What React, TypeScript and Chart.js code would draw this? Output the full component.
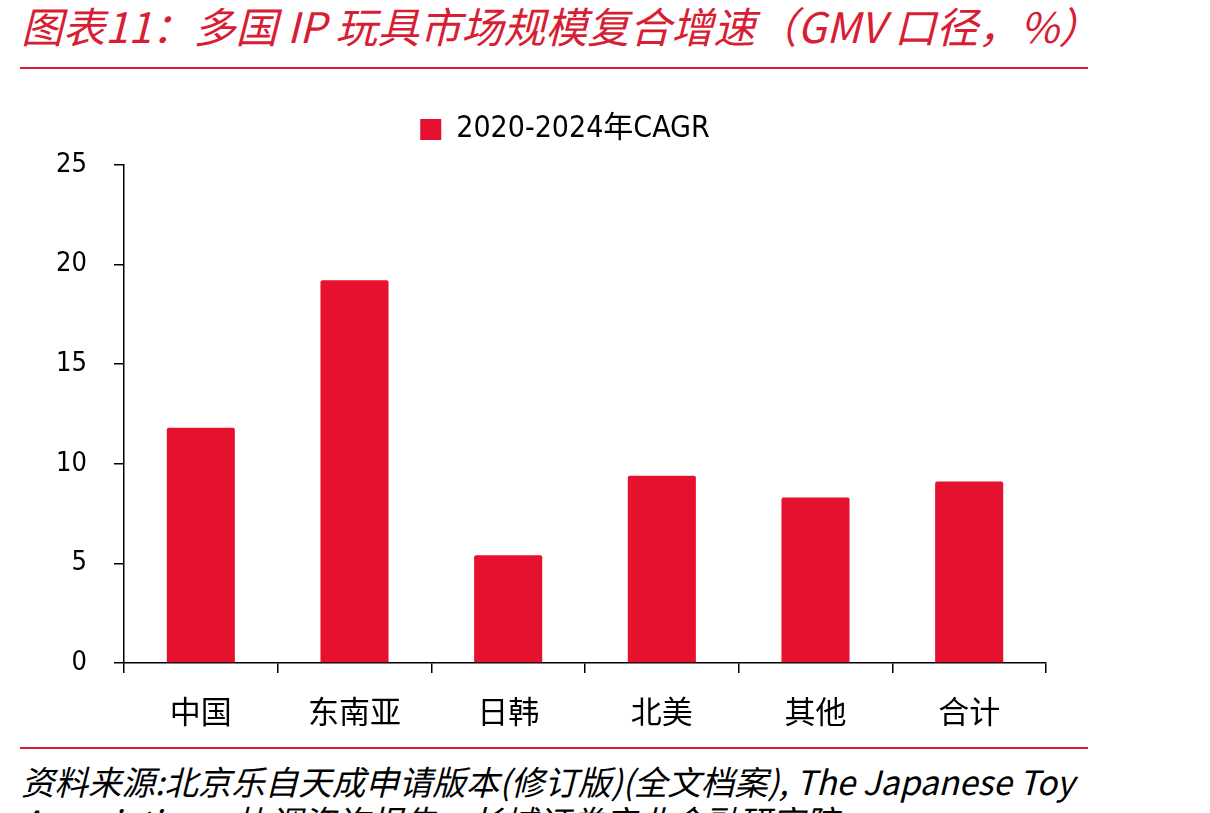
import React, { useEffect, useRef } from "react";
import { Chart, registerables } from "chart.js";

Chart.register(...registerables);

const categories = ["中国", "东南亚", "日韩", "北美", "其他", "合计"];
const cagr = [11.8, 19.2, 5.4, 9.4, 8.3, 9.1];
const seriesLabel = "2020-2024年CAGR";
const yTicks = [0, 5, 10, 15, 20, 25];
const titleText = "图表11：多国 IP 玩具市场规模复合增速（GMV 口径，%）";
const sourceLine1 = "资料来源:北京乐自天成申请版本(修订版)(全文档案), The Japanese Toy";
const sourceLine2 = "Association，协调咨询报告，长城证券产业金融研究院";

const RED = "#D81E34";
const BAR = "#E5112F";
const LATIN = "'DejaVu Sans Condensed', 'Liberation Sans', 'Noto Sans CJK SC', sans-serif";
const CJK = "'Noto Sans CJK SC', 'DejaVu Sans', sans-serif";

// move the legend block so it is centred like in the reference
const legendShift = {
  id: "legendShift",
  afterLayout(chart: any) {
    const l = chart.legend;
    if (l) {
      l.left += 84;
    }
  },
};

export default function App() {
  const ref = useRef<HTMLCanvasElement | null>(null);

  useEffect(() => {
    if (!ref.current) return;
    const chart = new Chart(ref.current, {
      type: "bar",
      data: {
        labels: categories,
        datasets: [
          {
            label: seriesLabel,
            data: cagr,
            backgroundColor: BAR,
            borderWidth: 0,
            borderRadius: 2,
            categoryPercentage: 1,
            barPercentage: 0.443,
          },
        ],
      },
      plugins: [legendShift],
      options: {
        animation: false,
        responsive: false,
        maintainAspectRatio: false,
        layout: { padding: { left: 0, right: 54, top: 14.5, bottom: 0 } },
        plugins: {
          legend: {
            display: true,
            position: "top",
            labels: {
              boxWidth: 21,
              boxHeight: 21,
              padding: 10,
              color: "#000",
              font: { family: LATIN, size: 30 },
            },
          },
          title: {
            display: true,
            text: "",
            weight: 500,
            padding: 0,
            font: { size: 10.2, lineHeight: 1 },
          } as any,
          tooltip: { enabled: false },
        },
        scales: {
          x: {
            grid: {
              display: true,
              drawOnChartArea: false,
              drawTicks: true,
              tickLength: 10,
              color: "#000",
              lineWidth: 1.5,
              offset: true,
            },
            border: { display: true, color: "#000", width: 1.5 },
            ticks: {
              color: "#000",
              padding: 20,
              font: { family: CJK, size: 31 },
            },
            afterFit: (s: any) => {
              s.height = 87;
            },
          },
          y: {
            min: 0,
            max: 25,
            afterBuildTicks: (s: any) => {
              s.ticks = yTicks.map((v) => ({ value: v }));
            },
            grid: {
              display: true,
              drawOnChartArea: false,
              drawTicks: true,
              tickLength: 10,
              color: "#000",
              lineWidth: 1.5,
            },
            border: { display: true, color: "#000", width: 1.5 },
            ticks: {
              color: "#000",
              padding: 27,
              font: { family: LATIN, size: 27 },
            },
            afterFit: (s: any) => {
              s.width = 124;
            },
          },
        },
      },
    });
    return () => chart.destroy();
  }, []);

  return (
    <div
      style={{
        position: "absolute",
        left: 0,
        top: 0,
        width: 1210,
        height: 813,
        overflow: "hidden",
        background: "#fff",
      }}
    >
      <div
        style={{
          position: "absolute",
          left: 21,
          top: 0,
          fontFamily: CJK,
          fontStyle: "italic",
          fontSize: 42,
          lineHeight: "50px",
          color: RED,
          whiteSpace: "nowrap",
        }}
      >
        {titleText}
      </div>
      <div style={{ position: "absolute", left: 20, top: 67, width: 1068, height: 2, background: RED }} />
      <canvas
        ref={ref}
        width={1100}
        height={660}
        style={{ position: "absolute", left: 0, top: 90, width: 1100, height: 660, display: "block" }}
      />
      <div style={{ position: "absolute", left: 20, top: 747, width: 1068, height: 2, background: RED }} />
      <div
        style={{
          position: "absolute",
          left: 21,
          top: 761,
          width: 1067,
          overflow: "hidden",
          fontFamily: CJK,
          fontStyle: "italic",
          fontSize: 33.5,
          lineHeight: "40px",
          color: "#000",
          whiteSpace: "nowrap",
        }}
      >
        <div>{sourceLine1}</div>
        <div>{sourceLine2}</div>
      </div>
    </div>
  );
}
